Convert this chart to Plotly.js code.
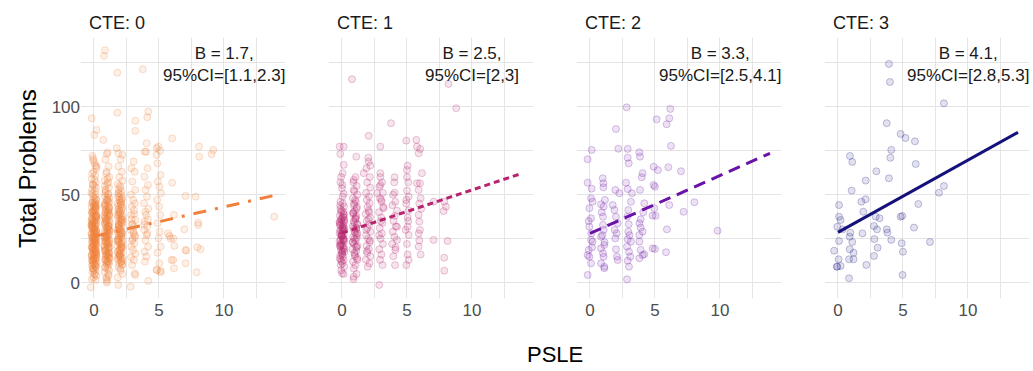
<!DOCTYPE html>
<html>
<head>
<meta charset="utf-8">
<script src="https://cdn.plot.ly/plotly-3.0.1.min.js"></script>
<style>html,body{margin:0;padding:0;background:#fff;}#chart{width:1033px;height:371px;}</style>
</head>
<body>
<div id="chart"></div>
<script>
// ---------- DATA ----------
const facetLabels = ['CTE: 0', 'CTE: 1', 'CTE: 2', 'CTE: 3'];
const slopeB = ['1.7', '2.5', '3.3', '4.1'];
const ci95 = ['[1.1,2.3]', '[2,3]', '[2.5,4.1]', '[2.8,5.3]'];
const xTicks = [0, 5, 10];
const yTicks = [0, 50, 100];

// CTE 0
const psle0 = [
  // PSLE 0
  -0.12,0.05,0.18,-0.03,0.10,-0.17,0.14,-0.08,0.01,0.16,
  -0.14,0.07,-0.19,0.12,-0.05,0.03,0.19,-0.10,0.09,-0.15,
  0.13,-0.01,-0.18,0.06,0.17,-0.07,0.11,-0.13,0.02,0.15,
  -0.09,0.08,-0.16,0.19,-0.04,0.04,-0.11,0.14,-0.20,0.10,
  0.00,-0.14,0.17,-0.06,0.07,-0.18,0.12,-0.02,0.16,-0.12,
  0.05,-0.08,0.18,-0.15,0.09,-0.03,0.13,-0.19,0.03,0.11,
  -0.10,0.15,-0.05,0.01,-0.17,0.19,-0.07,0.08,-0.13,0.14,
  -0.01,0.06,-0.16,0.17,-0.09,0.10,-0.12,0.04,0.18,-0.04,
  0.12,-0.18,0.07,-0.11,0.15,-0.06,0.02,-0.14,0.16,-0.02,
  0.09,-0.19,0.13,-0.08,0.05,-0.15,0.19,-0.10,0.00,0.11,
  -0.13,0.17,0.06,-0.16,0.14,-0.05,0.08,-0.11,0.03,0.18,-0.17,0.12,
  0.15,-0.06,0.09,-0.18,0.02,0.17,-0.11,0.05,-0.14,0.12,
  -0.03,0.19,-0.09,0.07,-0.16,0.11,-0.01,0.16,-0.12,0.04,
  -0.19,0.13,-0.07,0.00,0.18,-0.15,0.08,-0.04,0.14,-0.10,
  0.06,-0.17,0.10,-0.02,0.15,-0.13,0.03,-0.08,0.19,-0.18,
  0.09,-0.05,0.16,-0.11,0.01,0.12,-0.15,0.07,-0.03,0.17,
  -0.09,0.04,-0.14,0.11,-0.06,0.18,-0.12,0.02,0.14,-0.16,
  // PSLE 1
  1.05,0.88,1.12,0.95,1.18,0.83,1.02,1.15,0.90,1.08,
  0.85,1.19,0.97,1.10,0.82,1.04,1.16,0.92,1.13,0.87,
  1.00,1.17,0.84,1.07,0.94,1.20,0.89,1.11,0.96,1.03,
  0.81,1.14,0.98,1.09,0.86,1.18,0.93,1.06,0.80,1.12,
  0.99,0.87,1.15,1.01,0.91,1.19,0.84,1.08,0.95,1.13,
  0.88,1.04,1.17,0.82,1.10,0.97,1.02,0.90,1.16,0.85,
  1.07,0.94,1.19,0.83,1.11,1.00,0.89,1.14,0.96,1.05,
  0.81,1.18,0.92,1.09,0.87,1.03,1.15,0.98,0.84,1.12,
  1.06,0.93,1.17,0.86,1.01,1.10,0.90,1.20,
  1.10,0.86,1.16,0.93,1.04,0.81,1.19,0.97,1.08,0.89,
  1.14,1.01,0.84,1.12,0.95,1.06,0.83,1.17,0.91,1.03,
  1.15,0.88,1.09,0.96,1.18,0.82,1.05,0.94,1.13,0.87,
  1.00,1.20,0.90,1.07,0.85,1.11,0.98,1.16,0.80,1.02,
  1.14,0.92,1.08,0.86,1.19,0.97,1.04,0.89,1.12,0.83,
  // PSLE 2
  2.05,1.88,2.14,1.95,2.19,1.83,2.02,2.11,1.91,2.08,
  1.86,2.17,1.97,2.12,1.82,2.04,2.15,1.93,2.09,1.89,
  2.00,2.18,1.85,2.07,1.94,2.20,1.90,2.13,1.96,2.03,
  1.81,2.16,1.99,2.10,1.87,2.19,1.92,2.06,1.80,2.14,
  1.98,1.86,2.12,2.01,1.91,2.17,1.84,2.08,1.95,2.15,
  1.89,2.04,2.18,1.83,2.11,1.97,2.02,1.90,2.16,1.85,
  2.07,1.94,2.19,1.82,2.10,2.00,1.88,2.13,1.96,2.05,
  2.12,1.86,2.03,2.18,1.91,2.07,1.83,2.15,1.97,2.10,
  1.88,2.01,2.16,1.93,2.09,1.81,2.13,1.99,2.06,1.85,
  2.19,1.94,2.04,1.87,2.14,1.90,2.11,1.96,2.17,1.82,
  2.08,2.00,1.89,2.15,1.92,2.05,1.84,2.12,1.98,2.02,
  // PSLE 3
  3.05,2.88,3.12,2.95,3.17,2.84,3.02,3.14,2.91,3.08,2.86,3.19,2.97,3.10,2.82,3.04,
  3.16,2.93,3.11,2.87,3.00,3.18,2.85,3.07,2.94,3.13,2.89,3.03,3.15,2.92,3.09,2.98,
  // PSLE 4
  4.05,3.92,4.12,3.88,4.15,3.97,4.08,3.85,4.18,3.94,4.02,4.14,3.90,4.10,3.86,4.06,
  3.96,4.16,3.89,4.03,3.93,4.11,3.87,
  // PSLE 5
  4.95,5.08,4.88,5.12,4.92,5.04,5.15,4.86,5.01,5.10,4.90,5.06,4.97,5.13,4.89,5.03,4.85,5.11,
  // scattered
  0.85,0.77,1.8,3.75,1.8,4.18,4.1,3.18,3.18,-0.18,0.2,0.02,0.72,6.02,1.75,1.87,2.18,0.98,4.0,4.82,
  4.82,8.08,8.1,9.18,9.05,-0.05,0.2,6.02,7.05,7.82,6.15,13.87,8.02,6.95,5.7,5.8,5.9,6.18,7.1,7.95,
  8.2,5.97,7.05,6.15,7.9,5.15,4.82,4.18,3.18,2.82,1.87,-0.25,0.98,8.02,6.1,7.04,6.1
];
const total0 = [
  // PSLE 0
  72,68,65,63,61,59,57,56,55,54,
  53,52,51,50,49,48,47,46.5,46,45,
  44.5,44,43,42.5,42,41,40.5,40,39,38.5,
  38,37,36.5,36,35,34.5,34,33,32.5,32,
  31,30.5,30,29,28.5,28,27,26.5,26,25,
  24.5,24,23,22.5,22,21,20.5,20,19,18.5,
  18,17,16.5,16,15,14.5,14,13,12.5,12,
  11,10.5,10,9,8,7,6,5,4,3,
  1.5,36,33.5,31.5,29.5,27.5,25.5,23.5,21.5,19.5,
  17.5,15.5,13.5,11.5,41.5,39.5,37.5,35.5,28,24,
  20,16,30,26,22,18,14,45.5,43.5,34,32,9.5,
  44,41,38,35,32,29,26,23,20,17,
  14,11,8,5,2,42.7,39.7,36.7,33.7,30.7,
  27.7,24.7,21.7,18.7,15.7,12.7,9.7,6.7,47.5,50.5,
  45.2,40.2,35.2,30.2,25.2,20.2,15.2,10.2,37.8,32.8,
  27.8,22.8,17.8,12.8,7.8,43.3,33.3,23.3,13.3,28.3,
  55.5,58.5,62,66.5,70.5,38.2,31.2,24.2,19.2,16.2,
  // PSLE 1
  74,70,66,62,60,58,56,54,52,50,
  49,48,47,46,45,44,43,42,41,40,
  39,38,37,36,35,34,33,32,31,30,
  29,28,27,26,25,24,23,22,21,20,
  19,18,17,16,15,14,13,12,11,10,
  9,8,7,6,5,3,1,44.5,38.5,34.5,
  30.5,26.5,22.5,18.5,14.5,10.5,36.5,32.5,28.5,24.5,
  20.5,16.5,12.5,40.5,53,48.5,42.5,27.5,23.5,19.5,
  15.5,31.5,35.5,25.5,21.5,17.5,13.5,29.5,
  57,51,45.5,41.5,37.5,33.5,29.8,26.2,22.8,19.2,
  15.8,12.2,8.5,4,2,47.2,43.3,39.3,35.3,31.3,
  27.3,23.3,19.8,16.2,11.5,44,40,36,32,28,
  24,20,16,12,55,50.5,46.5,42,38,34,
  30,26,22,18,14,63,59,39.8,31.8,25.8,
  // PSLE 2
  70,66,63,60,58,56,54,52,51,50,
  49,48,47,46,45,44,43,42,41,40,
  39,38,37,36,35,34,33,32,31,30,
  29,28,27,26,25,24,23,22,21,20,
  19,18,17,16,15,14,13,12,11,10,
  9,7,5,3,44.5,40.5,36.5,32.5,28.5,24.5,
  20.5,16.5,12.5,38.5,34.5,30.5,26.5,22.5,18.5,14.5,
  47.5,43.5,39.5,35.5,31.5,27.5,23.5,19.5,15.5,11.5,
  50.5,46,42,38,34,30,26,22,18,14,
  10.5,48.5,45.5,41.5,37.2,33.2,29.2,25.2,21.2,17.2,
  13.2,55,53,36,32,28,24,20,16,8,
  // PSLE 3
  68.8,65,63,57.4,52.7,50,47,45,43.2,41,38.5,35.6,33.5,31.8,30,28,
  26,24,22.4,20.5,18.6,16.5,14.5,12.9,10,5.3,36,29,27,33,39,25,
  // PSLE 4
  79.2,74.4,65,60.2,55.5,52.7,48.9,45.1,42,40.3,38.5,36,34.7,32,30,27.1,
  24,20.5,17.6,14.8,12,28,33,
  // PSLE 5
  77.3,75,67.8,61.2,57.4,54.5,50.8,47,43.2,38.5,33.8,29,25.2,20.5,17,11,7.2,6,
  // scattered
  132,128.8,119.3,121.2,96.6,97.2,94,92,86.2,93.4,86.8,83.9,81.1,82,76.4,73.5,72.6,73.1,74.4,76.4,
  72.6,77.3,71.6,75.4,73,69.3,66,56.8,49.3,48.9,38.5,37.5,32.8,30.3,28,26.5,25,20.9,18.2,20.1,
  19,12.9,11,8.2,5.9,6.6,7.2,1,4.4,-2.3,-1.3,-2.6,0,34.1,25.2,18.6,12.9
];

// CTE 1
const psle1 = [
  0.05,-0.12,0.15,-0.04,0.10,-0.16,0.08,-0.09,0.17,-0.02,
  0.12,-0.14,0.03,0.18,-0.07,0.06,-0.18,0.13,-0.01,0.09,
  -0.11,0.16,-0.05,0.02,-0.15,0.11,-0.08,0.19,0.00,-0.13,
  0.07,-0.17,0.14,-0.03,0.04,-0.10,0.17,-0.06,0.01,
  -0.14,0.12,-0.19,0.08,-0.02,0.15,-0.09,0.05,-0.16,0.10,-0.05,
  0.18,-0.12,0.03,0.13,-0.07,
  -0.08,0.14,-0.17,0.06,-0.03,0.11,-0.13,0.18,0.02,-0.10,
  0.16,-0.05,0.09,-0.15,0.04,-0.19,0.12,-0.01,0.07,-0.12,
  0.15,-0.06,0.10,-0.14,0.01,
  1.04,0.88,1.13,0.95,1.18,0.84,1.07,0.92,1.15,0.99,
  0.86,1.11,1.02,0.90,1.17,0.83,1.09,0.96,1.14,0.87,
  1.05,0.93,1.19,0.81,1.10,0.98,1.16,0.85,1.03,0.91,
  1.12,0.89,1.06,0.94,1.18,0.82,1.08,0.97,1.13,1.00,
  0.93,1.12,0.86,1.05,1.17,0.90,1.02,1.14,0.84,1.09,0.96,1.19,1.01,0.88,1.11,
  2.03,1.88,2.14,1.94,2.17,1.85,2.08,1.91,2.12,1.97,
  2.05,1.83,2.16,1.90,2.10,1.96,2.19,1.86,2.01,2.13,
  1.89,2.07,1.93,2.18,1.84,2.11,1.98,2.04,1.87,2.15,1.92,2.09,
  2.95,3.08,2.88,3.14,2.92,3.05,3.17,2.85,3.02,3.11,
  2.90,3.07,2.97,3.15,2.87,3.04,2.93,3.12,3.00,2.86,
  4.02,3.93,4.10,3.88,4.06,3.97,4.14,3.91,4.04,3.86,4.12,3.95,4.08,
  5.0,4.95,5.05,5.1,4.9,5.0,5.05,4.95,5.1,6.05,5.95,6.1,6.0,5.95,6.05,
  0.77,8.2,8.79,3.77,2.05,2.95,4.95,5.72,5.77,6.02,
  5.9,-0.18,0.13,-0.13,1.1,2.05,2.18,1.67,2.95,4.05,
  5.05,5.0,6.15,5.77,6.0,5.9,0.13,0.05,0.9,0.9,
  0.0,2.95,2.7,4.05,5.0,5.13,4.95,3.02,3.2,4.23,
  5.13,7.05,7.87,8.0,7.82,5.9,5.95,5.05,5.13,5.9,
  5.9,4.23,4.23,4.1,5.13,7.05,8.12,7.87,7.87,2.87,
  0.9,0.13
];
const total1 = [
  48.9,46,43.2,41,40.3,38,37.5,36,35.6,34,
  33.8,32.5,31.8,31,30,29,28,27.5,26.1,25,
  24.3,23.5,22.4,21.5,20.5,19.5,18.6,17.5,16.7,15.5,
  14.8,13.8,12.9,12,11,10,9.1,7,5.3,
  44,39,34.5,29.5,27,24.5,21,18,33,30.5,26.5,
  35,57,55.5,50.5,60,
  40,37,34,31,28,25,22,19,16,13,
  38.5,35.5,32.5,29.5,26.5,23.5,20.5,17.5,45,42,
  30,27,24,21,36.5,
  60,57,55,52,50,48,46,44,43,41,
  40,38,36,35,33,32,30,29,27,26,
  24,22,21,19,18,16,14,12,10,8,
  5,2,37,34,28,23,31,25,20,15,
  45,42,39,36.5,33.5,30.5,28,25.5,23,20.5,17,13,47,39.5,31,
  71,65,60,57,54,51,49,47,45,43,
  41,39,37,35,33,31,29,27,25,23,
  21,19,17,15,13,11,9,36,30,24,18,40,
  60,57,54.5,51,48,46,43,40,37,34,
  31,28,25,22,19,16,13,10,35,27,
  57,50,46,44,38,35,32,29,26,22,20,15,10,
  60,45,37,35,30,22,16,10,57,48,45,42,30,24,16,
  115.6,112.9,99.1,90.6,83.4,77.3,80.7,81.1,77.3,76,
  73.5,77.3,77.3,73.1,71.6,68.8,66.5,62.2,62.2,59.9,
  66.5,64,62.2,56.5,56.5,52.7,66.9,62.2,58.4,52.7,
  53.6,55.5,50.8,51.1,52.3,48.9,47,47,42.3,40.9,
  41,46,46,43.2,40.7,38.5,34.7,31.8,27.1,28,
  20.5,31.8,24.3,18.6,12.9,24.3,23.7,14.2,6.8,-1.3,
  3.4,4.9
];

// CTE 2
const psle2 = [
  2.82,6.18,6.1,5.13,5.9,2.0,6.23,0.13,2.18,2.9,
  -0.18,2.9,2.98,3.8,3.85,4.9,5.23,6.03,7.0,-0.18,
  0.98,1.03,2.77,3.98,4.05,0.13,1.03,1.95,2.9,3.85,
  4.9,5.0,2.26,3.23,0.08,0.2,0.85,1.05,1.75,1.88,
  -0.05,3.15,2.95,4.18,4.95,6.1,7.2,8.03,0.08,1.0,
  2.0,2.88,4.82,5.05,-0.05,1.0,2.13,2.98,3.8,3.9,
  4.05,3.8,5.92,9.82,0.08,0.2,0.85,1.1,1.95,2.9,
  3.15,3.8,-0.1,-0.18,-0.05,0.85,1.0,1.05,2.0,2.08,
  2.85,3.0,3.1,3.9,4.05,4.18,4.82,5.0,5.85,0.08,
  0.85,1.1,2.13,2.9,3.0,3.8,-0.18,1.1,2.85,
  0.1,0.15,-0.1,1.05,0.95,1.12,0.9,1.15,2.05,1.9,3.05,2.95,4.1,3.9
];
const total2 = [
  99.6,98.7,93.4,92.8,90,87.3,77.7,75.4,76.1,76,
  70.1,71,67.8,74.1,71.6,65.9,64,65.6,63.3,56.8,
  59.3,56.5,56.8,59.9,62.2,53.4,54.2,52.7,53.2,52.7,
  55.5,54.5,50.8,50.8,48,46,44.5,43.2,44.1,41.3,
  42.3,46,41.3,45.1,42.3,44.1,40.3,45.7,36.6,37.5,
  37.5,37.5,38.1,38,31.8,32.8,33.8,33.2,33.8,31.3,
  29,27.1,30.3,29.5,24.3,23.3,26.1,21.4,25.2,24.7,
  23.3,23.3,18.6,15.7,14.8,19.5,16.7,14.8,19,14.8,
  20.5,17.6,14.8,18.6,15.7,16.1,19.5,19.2,17.3,11,
  11,9.1,12.9,12.5,9.1,13.9,4.4,8.2,1.9,
  28,20,35,30,27,23,40,47,28,30,27,29,40,36
];

// CTE 3
const psle3 = [
  3.92,4.0,8.15,3.75,4.82,5.2,5.92,4.1,4.03,0.92,
  1.1,5.98,2.95,3.92,2.13,1.05,8.15,7.77,1.8,2.13,
  6.18,0.08,1.95,0.08,0.2,2.9,3.2,4.95,-0.05,0.35,
  2.77,3.0,5.85,0.95,0.9,1.88,3.8,3.75,0.08,1.1,
  2.8,4.1,7.08,-0.3,0.9,1.2,3.05,4.9,5.0,0.05,
  0.85,1.2,2.77,-0.05,0.2,2.18,0.85,4.97,4.82,-0.1
];
const total3 = [
  124.3,114,101.9,90.6,84.5,82.2,80.3,75.4,71,72,
  68.6,67.4,63.3,59.3,58,52.3,54.9,51.1,46,47.4,
  44.7,44.1,40.3,37.5,35.6,37.5,36.6,37.9,31.8,30.3,
  32.2,30.3,31.3,28.4,26.1,28,28.4,30.3,23.7,23.1,
  24.8,24.3,23.1,18.2,19,17,19.9,22.4,17.6,13.3,
  13.3,13.3,15.2,9.1,9.5,10.1,2.5,4.4,37.5,9.1
];

// fitted lines (endpoints)
const fitX = [0, 13.85];
const fitY0 = [26.3, 49.5];
const fitY1 = [28.2, 62.1];
const fitY2 = [28.0, 73.5];
const fitY3 = [28.6, 85.4];

// ---------- STYLE ----------
const colors = ['#F0803C', '#B8246E', '#6A12A8', '#14117A'];
const dashes = ['13px,9px,3px,9px', '6px,4px', '12px,7px', 'solid'];
function rgba(hex, a) {
  const n = parseInt(hex.slice(1), 16);
  return 'rgba(' + ((n >> 16) & 255) + ',' + ((n >> 8) & 255) + ',' + (n & 255) + ',' + a + ')';
}

const xs = [psle0, psle1, psle2, psle3];
const ys = [total0, total1, total2, total3];
const fits = [fitY0, fitY1, fitY2, fitY3];

const traces = [];
for (let i = 0; i < 4; i++) {
  const sfx = i === 0 ? '' : String(i + 1);
  traces.push({
    type: 'scatter', mode: 'markers', x: xs[i], y: ys[i],
    xaxis: 'x' + sfx, yaxis: 'y' + sfx, hoverinfo: 'skip', showlegend: false,
    marker: { symbol: 'circle', size: 7, color: rgba(colors[i], 0.12),
              line: { color: rgba(colors[i], 0.25), width: 1 } }
  });
}
for (let i = 0; i < 4; i++) {
  const sfx = i === 0 ? '' : String(i + 1);
  traces.push({
    type: 'scatter', mode: 'lines', x: fitX, y: fits[i],
    xaxis: 'x' + sfx, yaxis: 'y' + sfx, hoverinfo: 'skip', showlegend: false,
    line: { color: colors[i], width: 3, dash: dashes[i] }
  });
}

const gridCol = '#E4E4E4';
const tickFont = { family: 'Liberation Sans, Arial, sans-serif', size: 17, color: '#4D4D4D' };
const plotW = 948, panelW = 204, gapW = 44;
const layout = {
  width: 1033, height: 371,
  margin: { l: 81, r: 4, t: 38, b: 73, pad: 0 },
  paper_bgcolor: '#FFFFFF', plot_bgcolor: '#FFFFFF',
  font: { family: 'Liberation Sans, Arial, sans-serif', color: '#1A1A1A' },
  showlegend: false,
  annotations: []
};
for (let i = 0; i < 4; i++) {
  const sfx = i === 0 ? '' : String(i + 1);
  const d0 = i * (panelW + gapW) / plotW;
  const d1 = (i * (panelW + gapW) + panelW) / plotW;
  layout['xaxis' + sfx] = {
    domain: [d0, Math.min(d1, 1)], anchor: 'y' + sfx, range: [-1.0, 14.7],
    tickvals: xTicks, ticktext: xTicks.map(String), ticks: '', showline: false, zeroline: false,
    showgrid: true, gridcolor: gridCol, gridwidth: 1, tickfont: tickFont,
    minor: { dtick: 2.5, tick0: 0, showgrid: true, gridcolor: gridCol, gridwidth: 1 }
  };
  layout['yaxis' + sfx] = {
    domain: [0, 1], anchor: 'x' + sfx, range: [-8.7, 139],
    tickvals: yTicks, ticktext: yTicks.map(String), ticks: '', showline: false, zeroline: false,
    showticklabels: i === 0, showgrid: true, gridcolor: gridCol, gridwidth: 1, tickfont: tickFont,
    minor: { dtick: 25, tick0: 0, showgrid: true, gridcolor: gridCol, gridwidth: 1 }
  };
  layout.annotations.push({
    xref: 'x' + sfx + ' domain', yref: 'y' + sfx + ' domain', x: 0.03, y: 1.058,
    xanchor: 'left', yanchor: 'middle', showarrow: false, text: facetLabels[i],
    font: { size: 18, color: '#1A1A1A' }
  });
  layout.annotations.push({
    xref: 'x' + sfx, yref: 'y' + sfx, x: 10, y: 124,
    xanchor: 'center', yanchor: 'middle', align: 'center', showarrow: false,
    text: 'B = ' + slopeB[i] + ',<br>95%CI=' + ci95[i],
    font: { size: 17, color: '#1A1A1A' }
  });
}
layout.annotations.push({
  xref: 'paper', yref: 'paper', x: 0.5, y: -0.219, xanchor: 'center', yanchor: 'middle',
  showarrow: false, text: 'PSLE', font: { size: 22, color: '#000000' }
});
layout.annotations.push({
  xref: 'paper', yref: 'paper', x: -0.057, y: 0.5, xanchor: 'center', yanchor: 'middle',
  showarrow: false, text: 'Total Problems', textangle: -90, font: { size: 24, color: '#000000' }
});

Plotly.newPlot('chart', traces, layout, { staticPlot: true, displayModeBar: false });
</script>
</body>
</html>
